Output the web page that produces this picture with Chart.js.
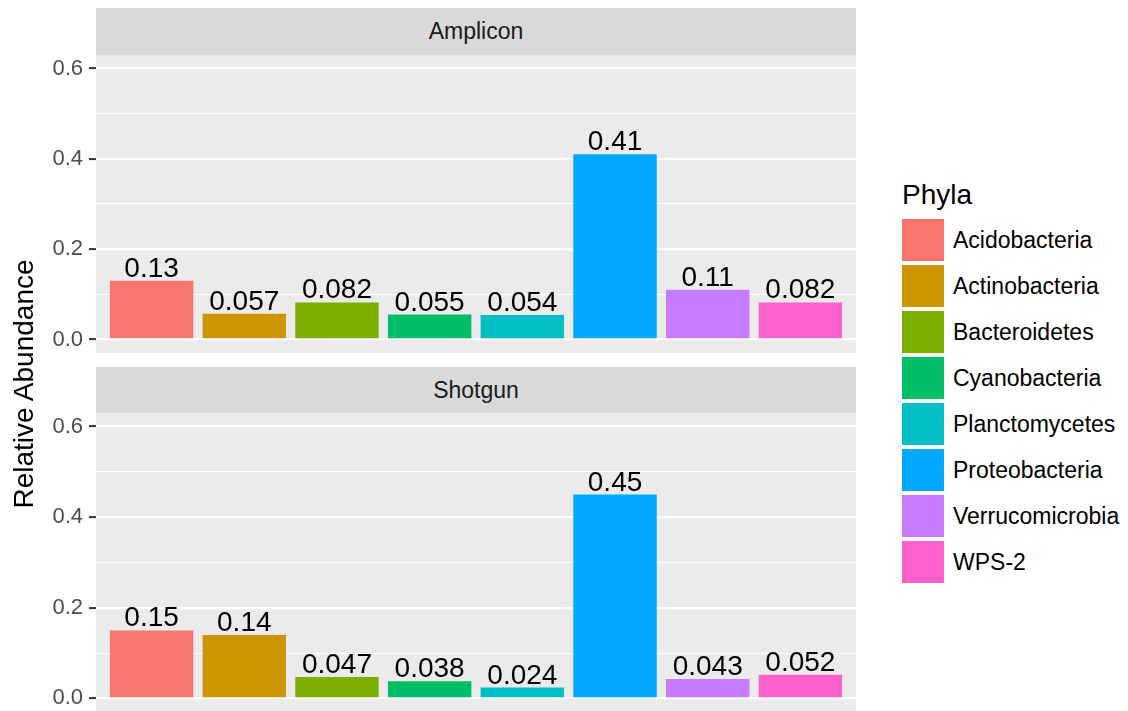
<!DOCTYPE html>
<html>
<head>
<meta charset="utf-8">
<script src="https://cdn.jsdelivr.net/npm/chart.js@4.4.1/dist/chart.umd.min.js"></script>
<style>
  html, body { margin: 0; padding: 0; background: #fff; overflow: hidden; }
  body { width: 1128px; height: 711px; position: relative; font-family: "Liberation Sans", Arial, sans-serif; }
  canvas { position: absolute; left: 0; }
  .strip { position: absolute; left: 96px; width: 760px; background: #d9d9d9; color: #1a1a1a;
           font-size: 23px; display: flex; align-items: center; justify-content: center; }
  #ytitle { position: absolute; left: 24px; top: 384px; width: 400px; margin-left: -200px; margin-top: -16px;
            height: 32px; line-height: 32px; text-align: center; font-size: 28px; color: #000;
            transform: rotate(-90deg); }
  #legend { position: absolute; left: 902px; top: 181px; }
  #legend .title { font-size: 28px; line-height: 28px; height: 36px; color: #000; }
  #legend .item { display: flex; align-items: center; height: 46px; }
  #legend .key { width: 42px; height: 42px; margin-right: 9px; }
  #legend .lab { font-size: 23px; color: #000; }
</style>
</head>
<body>
<div class="strip" style="top:8px;height:47px">Amplicon</div>
<div class="strip" style="top:367px;height:46px">Shotgun</div>
<canvas id="amp" width="856" height="338" style="top:35px"></canvas>
<canvas id="shot" width="856" height="339" style="top:393px"></canvas>
<div id="ytitle">Relative Abundance</div>
<div id="legend"></div>
<script>
// dati
const phyla = ['Acidobacteria', 'Actinobacteria', 'Bacteroidetes', 'Cyanobacteria',
	'Planctomycetes', 'Proteobacteria', 'Verrucomicrobia', 'WPS-2'];
const amplicon = [0.13, 0.057, 0.082, 0.055, 0.054, 0.41, 0.11, 0.082];
const shotgun = [0.15, 0.14, 0.047, 0.038, 0.024, 0.45, 0.043, 0.052];
const phylaColors = ['#F8766D', '#CD9600', '#7CAE00', '#00BE67', '#00BFC4', '#00A9FF', '#C77CFF', '#FF61CC'];
const yTicks = [0, 0.1, 0.2, 0.3, 0.4, 0.5, 0.6];

const isMajor = v => Math.round(v * 10) % 2 === 0;

// sfondo grigio del pannello
const panelBg = {
	id: 'panelBg',
	beforeDraw(chart) {
		const a = chart.chartArea;
		chart.ctx.save();
		chart.ctx.fillStyle = '#EBEBEB';
		chart.ctx.fillRect(a.left, a.top, a.right - a.left, a.bottom - a.top);
		chart.ctx.restore();
	}
};

// etichette sopra le barre
const barLabels = {
	id: 'barLabels',
	afterDatasetsDraw(chart) {
		const ctx = chart.ctx;
		const values = chart.data.datasets[0].data;
		ctx.save();
		ctx.font = '28px "Liberation Sans", Arial, sans-serif';
		ctx.fillStyle = '#000';
		ctx.textAlign = 'center';
		ctx.textBaseline = 'alphabetic';
		chart.getDatasetMeta(0).data.forEach((bar, i) => {
			ctx.fillText(String(values[i].y), bar.x, bar.y - 4);
		});
		ctx.restore();
	}
};

function makePanel(id, values) {
	const ctx = document.getElementById(id).getContext('2d');
	return new Chart(ctx, {
		type: 'bar',
		data: {
			datasets: [{
				label: id,
				data: values.map((v, i) => ({ x: i + 1, y: v })),
				backgroundColor: phylaColors,
				borderWidth: 0,
				barPercentage: 0.9,
				categoryPercentage: 1
			}]
		},
		options: {
			responsive: false,
			animation: false,
			devicePixelRatio: 1,
			layout: { padding: { top: 20, bottom: 20, left: 0, right: 0 } },
			plugins: { legend: { display: false }, tooltip: { enabled: false } },
			scales: {
				x: {
					type: 'linear', min: 0.4, max: 8.6, display: false, offset: false,
					grid: { offset: false },
					afterBuildTicks: s => { s.ticks = phyla.map((p, i) => ({ value: i + 1 })); }
				},
				y: {
					min: -0.03,
					max: 0.63,
					afterBuildTicks: s => { s.ticks = yTicks.map(v => ({ value: v })); },
					afterFit: s => { s.width = 96; },
					border: { display: false },
					grid: {
						color: '#FFFFFF',
						lineWidth: c => isMajor(c.tick.value) ? 2.2 : 1.1,
						tickColor: c => isMajor(c.tick.value) ? '#333333' : 'rgba(0,0,0,0)',
						tickLength: 7,
						tickWidth: 2
					},
					ticks: {
						autoSkip: false,
						padding: 6,
						color: '#4D4D4D',
						font: { family: '"Liberation Sans", Arial, sans-serif', size: 22 },
						callback: v => isMajor(v) ? v.toFixed(1) : ''
					}
				}
			}
		},
		plugins: [panelBg, barLabels]
	});
}

makePanel('amp', amplicon);
makePanel('shot', shotgun);

// legenda
const legend = document.getElementById('legend');
legend.innerHTML = '<div class="title">Phyla</div>' + phyla.map((p, i) => `
	<div class="item"><div class="key" style="background:${phylaColors[i]}"></div><span class="lab">${p}</span></div>`).join('');
</script>
</body>
</html>
